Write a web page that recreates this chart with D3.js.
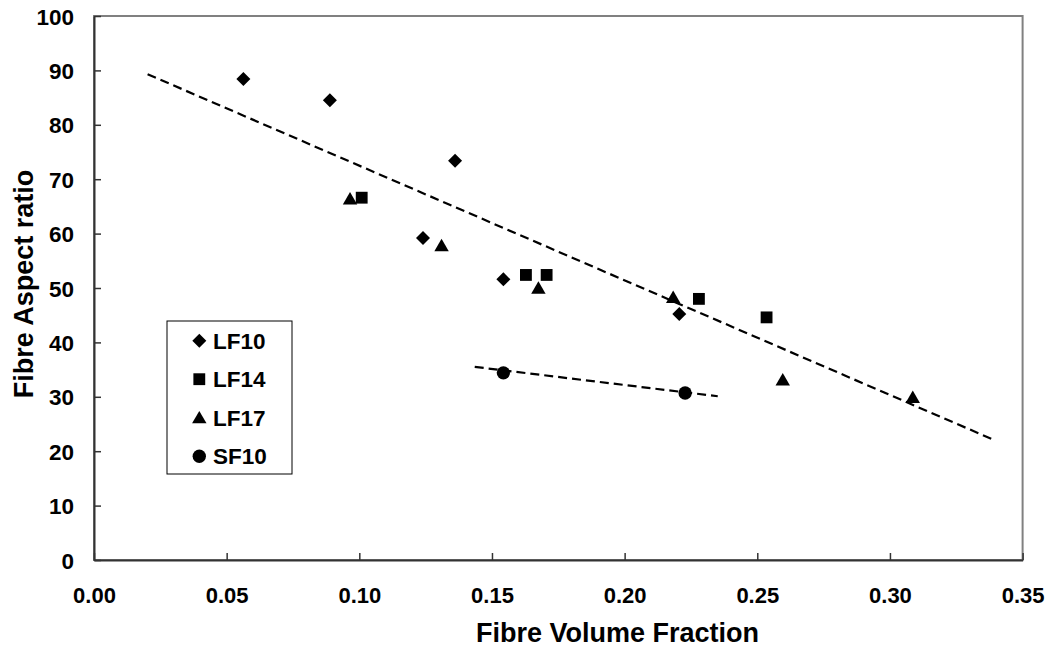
<!DOCTYPE html>
<html>
<head>
<meta charset="utf-8">
<script src="https://cdn.jsdelivr.net/npm/d3@7"></script>
<style>
  html, body { margin: 0; padding: 0; background: #fff; }
  svg text { font-family: "Liberation Sans", Arial, sans-serif; font-weight: bold; fill: #000; }
</style>
</head>
<body>
<svg id="chart" width="1053" height="652"></svg>
<script>
// ---- data ----
const xTicks = [0, 0.05, 0.10, 0.15, 0.20, 0.25, 0.30, 0.35];
const yTicks = [0, 10, 20, 30, 40, 50, 60, 70, 80, 90, 100];

const lf10X = [0.0563, 0.0889, 0.1240, 0.1361, 0.1543, 0.2206];
const lf10Y = [88.4, 84.5, 59.2, 73.4, 51.6, 45.2];
const lf14X = [0.1009, 0.1628, 0.1706, 0.2280, 0.2535];
const lf14Y = [66.6, 52.4, 52.4, 48.0, 44.6];
const lf17X = [0.0965, 0.1310, 0.1675, 0.2183, 0.2596, 0.3086];
const lf17Y = [66.4, 57.8, 50.0, 48.3, 33.1, 29.9];
const sf10X = [0.1543, 0.2228];
const sf10Y = [34.4, 30.7];

const trendMainX = [0.0202, 0.3386];
const trendMainY = [89.3, 22.2];
const trendSfX = [0.1435, 0.2351];
const trendSfY = [35.5, 30.1];

const seriesNames = ["LF10", "LF14", "LF17", "SF10"];

// ---- layout ----
const svg = d3.select("#chart");
const L = 94, R = 1022.6, T = 16, B = 560;
const x = d3.scaleLinear().domain([0, 0.35]).range([L, R]);
const y = d3.scaleLinear().domain([0, 100]).range([B, T]);

// plot border (top/right gray)
svg.append("rect").attr("x", L).attr("y", T).attr("width", R - L).attr("height", B - T)
  .attr("fill", "none").attr("stroke", "#808080").attr("stroke-width", 2);

// axes
const xAxis = d3.axisBottom(x).tickValues(xTicks).tickSizeInner(-7).tickSizeOuter(0)
  .tickFormat(d3.format(".2f"));
const gx = svg.append("g").attr("transform", `translate(0,${B})`).call(xAxis);
gx.select(".domain").attr("stroke", "#333").attr("stroke-width", 2);
gx.selectAll(".tick line").attr("stroke", "#333").attr("stroke-width", 1.5);
gx.selectAll(".tick text").attr("y", 43).attr("dy", 0).style("font-size", "22px")
  .style("font-family", '"Liberation Sans", Arial, sans-serif').style("font-weight", "bold");

const yAxis = d3.axisLeft(y).tickValues(yTicks).tickSizeInner(-7).tickSizeOuter(0)
  .tickFormat(d3.format("d"));
const gy = svg.append("g").attr("transform", `translate(${L},0)`).call(yAxis);
gy.select(".domain").attr("stroke", "#333").attr("stroke-width", 2);
gy.selectAll(".tick line").attr("stroke", "#333").attr("stroke-width", 1.5);
gy.selectAll(".tick text").attr("x", -20).attr("dy", "0.36em").style("font-size", "22.5px")
  .style("font-family", '"Liberation Sans", Arial, sans-serif').style("font-weight", "bold");

// axis titles
svg.append("text").attr("x", 617.5).attr("y", 641.5).attr("text-anchor", "middle")
  .style("font-size", "27px").text("Fibre Volume Fraction");
svg.append("text").attr("transform", "translate(33.3,284) rotate(-90)").attr("text-anchor", "middle")
  .style("font-size", "27px").text("Fibre Aspect ratio");

// trend lines
const line = d3.line().x(d => x(d[0])).y(d => y(d[1]));
[[trendMainX, trendMainY], [trendSfX, trendSfY]].forEach(([xs, ys]) => {
  svg.append("path").datum(xs.map((v, i) => [v, ys[i]])).attr("d", line)
    .attr("fill", "none").attr("stroke", "#000").attr("stroke-width", 2.2)
    .attr("stroke-dasharray", "9,5");
});

// markers
const sym = {
  LF10: d3.symbol().type(d3.symbolDiamond2).size(125),
  LF14: d3.symbol().type(d3.symbolSquare).size(140),
  LF17: d3.symbol().type(d3.symbolTriangle).size(90),
  SF10: d3.symbol().type(d3.symbolCircle).size(140)
};
function drawMark(g, name, cx, cy) {
  let dy = 0;
  if (name === "LF17") dy = 1.5;
  g.append("path").attr("d", sym[name]()).attr("fill", "#000")
    .attr("transform", `translate(${cx},${cy + dy})`);
}
const pts = [[lf10X, lf10Y, "LF10"], [lf14X, lf14Y, "LF14"], [lf17X, lf17Y, "LF17"], [sf10X, sf10Y, "SF10"]];
const gm = svg.append("g");
pts.forEach(([xs, ys, name]) => xs.forEach((v, i) => drawMark(gm, name, x(v), y(ys[i]))));

// legend
const lg = svg.append("g");
lg.append("rect").attr("x", 167).attr("y", 321).attr("width", 125).attr("height", 153)
  .attr("fill", "#fff").attr("stroke", "#000").attr("stroke-width", 1);
seriesNames.forEach((name, i) => {
  const cy = 340.7 + i * 38.5;
  drawMark(lg, name, 199.3, cy);
  lg.append("text").attr("x", 213).attr("y", cy).attr("dy", "0.36em")
    .style("font-size", "22.5px").text(name);
});
</script>
</body>
</html>
